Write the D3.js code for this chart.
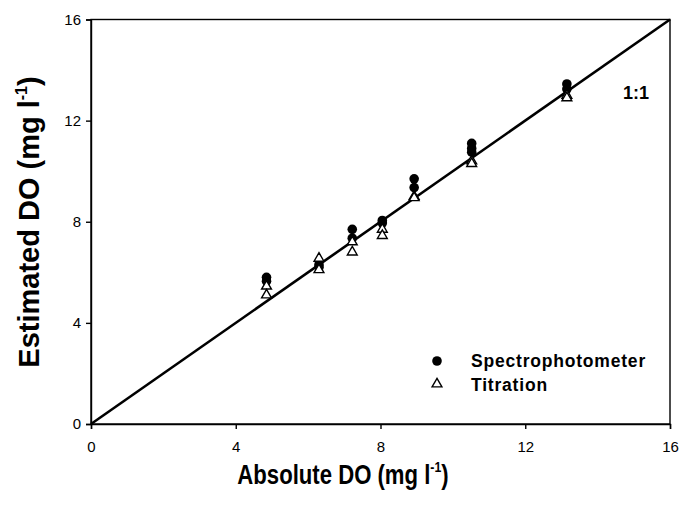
<!DOCTYPE html>
<html><head><meta charset="utf-8">
<script src="https://cdn.jsdelivr.net/npm/d3@7"></script>
<style>body{margin:0;background:#fff}svg{display:block}</style>
</head><body>
<svg id="c" width="681" height="506"></svg>
<script>
const xTicks = [0, 4, 8, 12, 16];
const yTicks = [0, 4, 8, 12, 16];
const spectroAbs = [4.85, 4.85, 6.3, 6.3, 7.22, 7.22, 8.05, 8.05, 8.93, 8.93, 10.52, 10.52, 10.52, 13.15, 13.15];
const spectroEst = [5.8, 5.65, 6.3, 6.2, 7.7, 7.35, 8.05, 7.95, 9.7, 9.35, 11.1, 10.9, 10.75, 13.45, 13.25];
const titrAbs = [4.85, 4.85, 6.3, 6.3, 7.22, 7.22, 8.05, 8.05, 8.93, 8.93, 10.52, 10.52, 13.15, 13.15];
const titrEst = [5.45, 5.1, 6.55, 6.1, 7.2, 6.8, 7.7, 7.45, 9.0, 8.95, 10.4, 10.3, 13.0, 12.9];
const oneToOne = [[0, 0], [16, 16]];
const seriesNames = ["Spectrophotometer", "Titration"];

const svg = d3.select("#c");
const L = 91, R = 670, T = 19.5, B = 424;
const x = d3.scaleLinear().domain([0, 16]).range([L, R]);
const y = d3.scaleLinear().domain([0, 16]).range([B, T]);
const font = "'Liberation Sans', Arial, sans-serif";

// frame
svg.append("rect").attr("x", L).attr("y", T).attr("width", R - L).attr("height", B - T)
  .attr("fill", "none").attr("stroke", "#000").attr("stroke-width", 1.4);

const xa = svg.append("g").attr("transform", `translate(0,${B})`)
  .call(d3.axisBottom(x).tickValues(xTicks).tickSize(5).tickPadding(12).tickFormat(d3.format("d")));
const ya = svg.append("g").attr("transform", `translate(${L},0)`)
  .call(d3.axisLeft(y).tickValues(yTicks).tickSize(5).tickPadding(5).tickFormat(d3.format("d")));
[xa, ya].forEach(a => {
  a.select(".domain").attr("stroke-width", 1.4);
  a.selectAll(".tick line").attr("stroke-width", 1.4);
  a.selectAll("text").attr("font-family", font).attr("font-size", 15).attr("fill", "#000");
});

// 1:1 line
svg.append("path").datum(oneToOne)
  .attr("d", d3.line().x(d => x(d[0])).y(d => y(d[1])))
  .attr("stroke", "#000").attr("stroke-width", 2.6).attr("fill", "none");

// spectrophotometer
svg.append("g").selectAll("circle").data(d3.range(spectroAbs.length)).join("circle")
  .attr("cx", i => x(spectroAbs[i])).attr("cy", i => y(spectroEst[i])).attr("r", 4.8).attr("fill", "#000");

const tri = d3.symbol(d3.symbolTriangle).size(42);
svg.append("g").selectAll("path").data(d3.range(titrAbs.length)).join("path")
  .attr("d", tri)
  .attr("transform", i => `translate(${x(titrAbs[i])},${y(titrEst[i])})`)
  .attr("fill", "#fff").attr("stroke", "#000").attr("stroke-width", 1.4);

// 1:1 label
svg.append("text").attr("x", 636).attr("y", 99).attr("text-anchor", "middle")
  .attr("font-family", font).attr("font-weight", "bold").attr("font-size", 18).text("1:1");

// legend
const lg = svg.append("g");
lg.append("circle").attr("cx", 437).attr("cy", 361).attr("r", 4.8).attr("fill", "#000");
lg.append("path").attr("d", tri).attr("transform", "translate(437,384)")
  .attr("fill", "#fff").attr("stroke", "#000").attr("stroke-width", 1.4);
lg.selectAll("text").data(seriesNames).join("text")
  .attr("x", 471).attr("y", (d, i) => 367 + i * 24)
  .attr("font-family", font).attr("font-weight", "bold").attr("font-size", 17.5)
  .attr("letter-spacing", 0.8).text(d => d);

// axis titles
const xt = svg.append("text").attr("transform", "translate(343,484) scale(0.82,1)").attr("text-anchor", "middle")
  .attr("font-family", font).attr("font-weight", "bold").attr("font-size", 27);
xt.append("tspan").text("Absolute DO (mg l");
xt.append("tspan").attr("font-size", 15).attr("dy", -12).text("-1");
xt.append("tspan").attr("dy", 12).text(")");

const yt = svg.append("text").attr("transform", "translate(39,222) rotate(-90)").attr("text-anchor", "middle")
  .attr("font-family", font).attr("font-weight", "bold").attr("font-size", 29);
yt.append("tspan").text("Estimated DO (mg l");
yt.append("tspan").attr("font-size", 16).attr("dy", -12).text("-1");
yt.append("tspan").attr("dy", 12).text(")");
</script>
</body></html>
